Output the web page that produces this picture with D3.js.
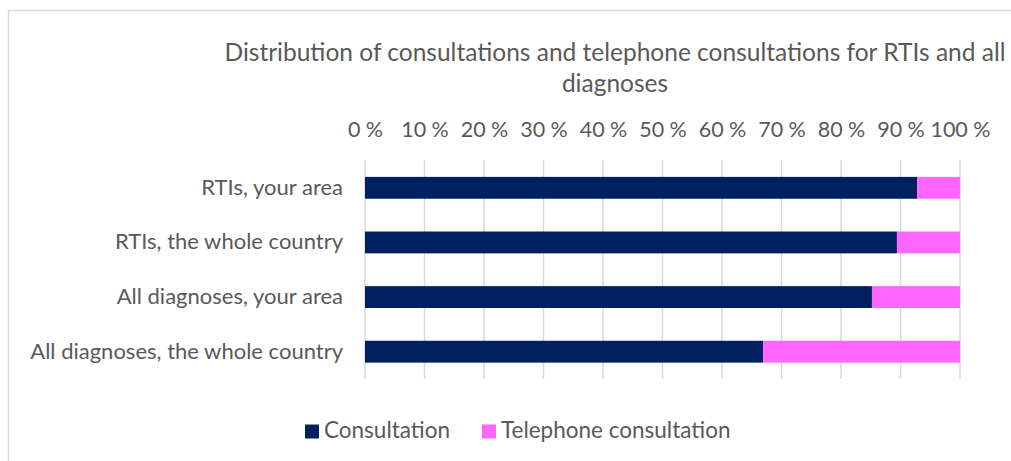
<!DOCTYPE html>
<html>
<head>
<meta charset="utf-8">
<script src="https://d3js.org/d3.v7.min.js"></script>
<style>
  body { margin: 0; background: #fff; }
  text { font-family: Lato, "Open Sans", sans-serif; fill: #595959; }
</style>
</head>
<body>
<div class="chart"></div>
<script>
const categories = ["RTIs, your area", "RTIs, the whole country", "All diagnoses, your area", "All diagnoses, the whole country"];
const consultation = [92.8, 89.4, 85.2, 66.9];
const telephone = [7.2, 10.6, 14.8, 33.1];
const seriesNames = ["Consultation", "Telephone consultation"];
const seriesColors = ["#002060", "#ff66ff"];
const tickValues = [0, 10, 20, 30, 40, 50, 60, 70, 80, 90, 100];

const svgWidth = 1011;
const svgHeight = 461;

const svg = d3.select(".chart")
              .append("svg")
              .attr("width", svgWidth)
              .attr("height", svgHeight);

// chart frame
svg.append("path")
   .attr("d", "M8.5,461 L8.5,10.5 L1011,10.5")
   .attr("fill", "none")
   .attr("stroke", "#d9d9d9")
   .attr("stroke-width", 1.5);

svg.append("text")
   .attr("x", 615)
   .attr("y", 61)
   .attr("text-anchor", "middle")
   .style("font-size", "24.5px")
   .text("Distribution of consultations and telephone consultations for RTIs and all");
svg.append("text")
   .attr("x", 615)
   .attr("y", 92)
   .attr("text-anchor", "middle")
   .style("font-size", "24.5px")
   .text("diagnoses");

const xScale = d3.scaleLinear()
                 .domain([0, 100])
                 .range([365, 960]);

const yScale = d3.scaleBand()
                 .domain(categories)
                 .range([160.5, 379])
                 .paddingInner(0.6)
                 .paddingOuter(0.3);

// gridlines
svg.append("g")
   .selectAll("line")
   .data(tickValues)
   .enter()
   .append("line")
   .attr("x1", d => xScale(d))
   .attr("x2", d => xScale(d))
   .attr("y1", 160)
   .attr("y2", 379)
   .attr("stroke", "#d9d9d9")
   .attr("stroke-width", 1.5);

const xAxis = d3.axisTop(xScale)
                .tickValues(tickValues)
                .tickSize(0)
                .tickFormat(d => d + " %");

svg.append("g")
   .attr("id", "x-axis")
   .attr("transform", "translate(0,140)")
   .call(xAxis)
   .call(g => g.select(".domain").remove())
   .selectAll("text")
   .style("font-size", "21.5px")
   .attr("fill", "#595959");

const yAxis = d3.axisLeft(yScale)
                .tickSize(0)
                .tickPadding(22);

svg.append("g")
   .attr("id", "y-axis")
   .attr("transform", "translate(365,0)")
   .call(yAxis)
   .call(g => g.select(".domain").remove())
   .selectAll("text")
   .style("font-size", "22px")
   .attr("fill", "#595959");

const rows = categories.map((c, i) => ({ name: c, values: [consultation[i], telephone[i]] }));

rows.forEach(row => {
  let start = 0;
  row.values.forEach((v, j) => {
    svg.append("rect")
       .attr("x", xScale(start))
       .attr("y", yScale(row.name))
       .attr("width", xScale(start + v) - xScale(start))
       .attr("height", yScale.bandwidth())
       .attr("fill", seriesColors[j]);
    start += v;
  });
});

// legend
const legendX = [305, 482];
seriesNames.forEach((name, i) => {
  svg.append("rect")
     .attr("x", legendX[i])
     .attr("y", 424.5)
     .attr("width", 14)
     .attr("height", 14)
     .attr("fill", seriesColors[i]);
  svg.append("text")
     .attr("x", legendX[i] + 19)
     .attr("y", 438)
     .style("font-size", "22.5px")
     .text(name);
});
</script>
</body>
</html>
